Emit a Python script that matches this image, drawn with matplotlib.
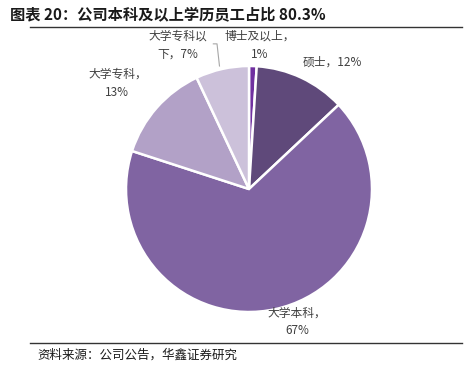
import matplotlib.pyplot as plt
from matplotlib.lines import Line2D

plt.rcParams['font.family'] = ['Noto Sans CJK SC', 'DejaVu Sans']

names = ['博士及以上', '硕士', '大学本科', '大学专科', '大学专科以下']
shares = [1, 12, 67, 13, 7]
colors = ['#7030A0', '#5F497A', '#8064A2', '#B2A1C7', '#CCC1DA']

W, H = 475, 371
fig = plt.figure(figsize=(W / 100, H / 100), dpi=100)

cx, cy, r = 249, 189, 123
ax = fig.add_axes([(cx - r) / W, (H - cy - r) / H, 2 * r / W, 2 * r / H])
ax.pie(shares, colors=colors, startangle=90, counterclock=False, radius=1,
       wedgeprops=dict(edgecolor='white', linewidth=1.8))
ax.set_xlim(-1, 1)
ax.set_ylim(-1, 1)
ax.set_aspect('auto')
ax.axis('off')

lab_kw = dict(fontsize=8.5, color='#404040', ha='center', va='center',
              linespacing=1.5, clip_on=False)
ax.text(0.09, 1.17, f'{names[0]}，\n{shares[0]}%', **lab_kw)
ax.text(0.68, 1.03, f'{names[1]}，{shares[1]}%', **lab_kw)
ax.text(0.39, -1.08, f'{names[2]}，\n{shares[2]}%', **lab_kw)
ax.text(-1.07, 0.86, f'{names[3]}，\n{shares[3]}%', **lab_kw)
ax.text(-0.58, 1.17, '大学专科以\n下，' + f'{shares[4]}%', **lab_kw)
ax.plot([-0.29, -0.26, -0.24], [1.18, 1.18, 1.0], color='#A6A6A6', lw=0.8, clip_on=False)

fig.text(10 / W, 1 - 14 / H, '图表 20：公司本科及以上学历员工占比 80.3%',
         fontsize=11, fontweight='bold', ha='left', va='center', color='#1a1a1a')
fig.add_artist(Line2D([30 / W, 462 / W], [1 - 27 / H] * 2, color='#333333', lw=1))
fig.add_artist(Line2D([30 / W, 462 / W], [1 - 343 / H] * 2, color='#333333', lw=1))
fig.text(37 / W, 1 - 355 / H, '资料来源：公司公告，华鑫证券研究', fontsize=9,
         ha='left', va='center', color='#1a1a1a')

fig.savefig('out.png', dpi=100)
